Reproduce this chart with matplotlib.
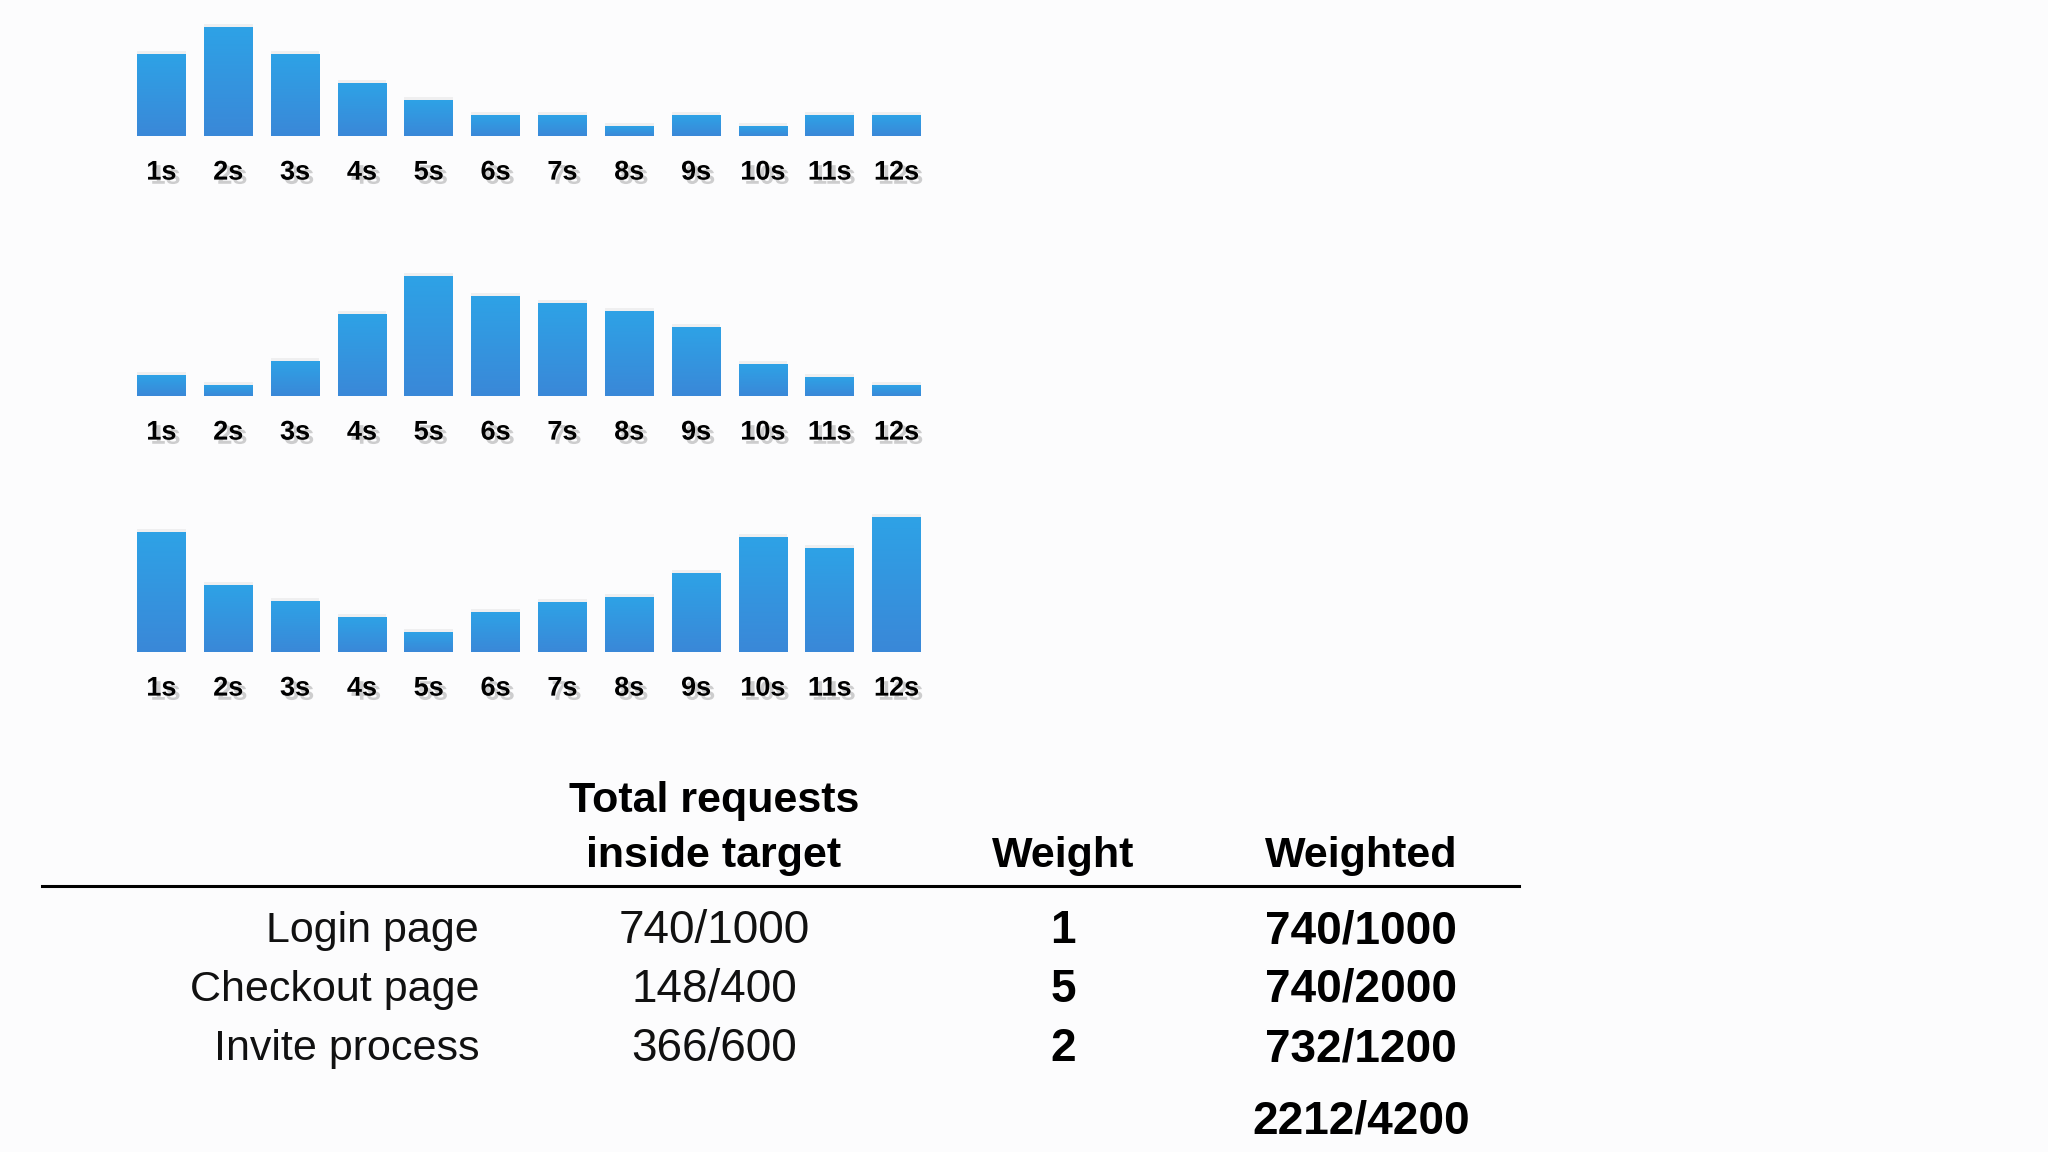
import matplotlib
matplotlib.use("Agg")
import matplotlib.pyplot as plt
import matplotlib.patheffects as pe
import numpy as np

# data
seconds = ["1s", "2s", "3s", "4s", "5s", "6s", "7s", "8s", "9s", "10s", "11s", "12s"]
login_hist = [82, 109, 82, 53, 36, 21, 21, 10, 21, 10, 21, 21]
checkout_hist = [21, 11, 35, 82, 120, 100, 93, 85, 69, 32, 19, 11]
invite_hist = [120, 67, 51, 35, 20, 40, 50, 55, 79, 115, 104, 135]

pages = ["Login page", "Checkout page", "Invite process"]
inside_target = [740, 148, 366]
total_requests = [1000, 400, 600]
weights = [1, 5, 2]

W, H = 2048, 1152
BG = "#fcfcfd"
fig = plt.figure(figsize=(W / 100, H / 100), dpi=100, facecolor=BG)


def px_axes(left, top, width, height):
    # pixel box (from top-left) -> figure fraction
    return fig.add_axes([left / W, 1 - (top + height) / H, width / W, height / H])


font = ["Liberation Sans", "DejaVu Sans"]
shadow = [pe.SimplePatchShadow(offset=(3, -3), shadow_rgbFace="#888888", alpha=0.4), pe.Normal()]
grad = np.linspace(0, 1, 64).reshape(-1, 1)
cmap = matplotlib.colors.LinearSegmentedColormap.from_list("bar", ["#2ea2e6", "#3a88d8"])


def hist_panel(values, baseline):
    ax = px_axes(137, baseline - 140, 784, 140)
    ax.set_facecolor("none")
    x = np.arange(len(values))
    bars = ax.bar(x, values, width=0.73, color="#3394de", zorder=2,
                  path_effects=[pe.SimplePatchShadow(offset=(0, 2), shadow_rgbFace="#999999", alpha=0.12),
                                pe.Normal()])
    for b in bars:
        x0, y0 = b.get_x(), b.get_y()
        im = ax.imshow(grad, cmap=cmap, aspect="auto", zorder=3,
                       extent=(x0, x0 + b.get_width(), y0, y0 + b.get_height()), origin="upper")
        im.set_clip_path(b)
    ax.set_xlim(-0.365, len(values) - 0.635)
    ax.set_ylim(0, 140)
    ax.set_xticks(x)
    ax.set_xticklabels(seconds, fontsize=19.5, fontweight="bold", family=font)
    for t in ax.get_xticklabels():
        t.set_path_effects(shadow)
    ax.tick_params(axis="x", length=0, pad=17)
    ax.set_yticks([])
    for s in ax.spines.values():
        s.set_visible(False)


hist_panel(login_hist, 136)
hist_panel(checkout_hist, 396)
hist_panel(invite_hist, 652)

# weighted table
tab = px_axes(0, 0, W, H)
tab.set_xlim(0, W)
tab.set_ylim(H, 0)
tab.axis("off")
tab.patch.set_alpha(0)

hs = 31   # header size
fs = 33   # row size
ls = 31   # row label size
col_label, col_inside, col_weight, col_weighted = 479, 714, 1063, 1361

tab.text(col_inside, 801, "Total requests", ha="center", va="center", fontsize=hs,
         fontweight="bold", family=font)
tab.text(col_inside, 856, "inside target", ha="center", va="center", fontsize=hs,
         fontweight="bold", family=font)
tab.text(col_weight, 856, "Weight", ha="center", va="center", fontsize=hs, fontweight="bold", family=font)
tab.text(col_weighted, 856, "Weighted", ha="center", va="center", fontsize=hs, fontweight="bold", family=font)
tab.plot([42, 1519], [886, 886], color="black", lw=2.2)

row_y = [931, 990, 1049]
for y, name, hit, tot, w in zip(row_y, pages, inside_target, total_requests, weights):
    tab.text(col_label, y, name, ha="right", va="center", fontsize=ls, family=font, color="#111111")
    tab.text(col_inside, y, f"{hit}/{tot}", ha="center", va="center", fontsize=fs, family=font,
             color="#111111")
    tab.text(col_weight, y, str(w), ha="center", va="center", fontsize=fs, fontweight="bold", family=font)
    tab.text(col_weighted, y, f"{hit * w}/{tot * w}", ha="center", va="center", fontsize=fs,
             fontweight="bold", family=font)

sum_hit = sum(h * w for h, w in zip(inside_target, weights))
sum_tot = sum(t * w for t, w in zip(total_requests, weights))
tab.text(col_weighted, 1121, f"{sum_hit}/{sum_tot}", ha="center", va="center", fontsize=fs,
         fontweight="bold", family=font)

fig.savefig("out.png", dpi=100, facecolor=BG)
